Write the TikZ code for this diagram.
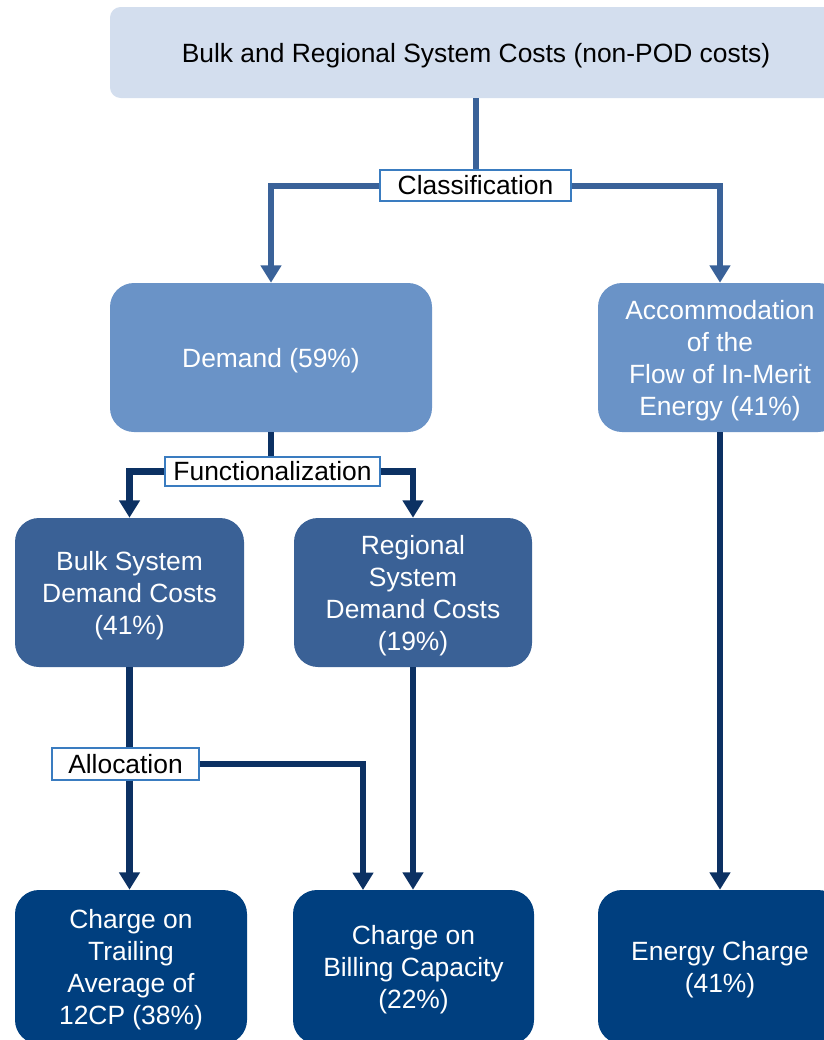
\documentclass[tikz,border=0pt]{standalone}
\usepackage{fontspec}
\setmainfont{Liberation Sans}
\usetikzlibrary{arrows.meta}
\definecolor{topfill}{RGB}{211,222,238}
\definecolor{midfill}{RGB}{106,147,199}
\definecolor{darkfill}{RGB}{58,97,150}
\definecolor{navyfill}{RGB}{0,63,127}
\definecolor{clsline}{RGB}{58,98,153}
\definecolor{navyline}{RGB}{12,49,99}
\definecolor{lblborder}{RGB}{58,124,192}
\begin{document}
\begin{tikzpicture}[x=0.75pt,y=-0.75pt,
  txt/.style={font=\fontsize{19.8pt}{24pt}\selectfont, align=center},
  box/.style={txt, rectangle, inner sep=0pt, text depth=0pt, minimum height=111.75pt, rounded corners=18pt, text=white},
  lbl/.style={txt, draw=lblborder, line width=1.1pt, fill=white, inner sep=0pt, text=black},
  cline/.style={clsline, line width=4.5pt},
  cconn/.style={cline, -{Triangle[width=15pt,length=13pt]}},
  nline/.style={navyline, line width=5pt},
  nconn/.style={nline, -{Triangle[width=15pt,length=13pt]}}
]
\useasboundingbox (0,0) rectangle (824,1040);
\clip (0,0) rectangle (824,1040);
% boxes
\node[box, fill=topfill, text=black, minimum width=549pt, minimum height=68.25pt, rounded corners=8pt] (top) at (476,52.5) {Bulk and Regional System Costs (non-POD costs)};
\node[box, fill=midfill, minimum width=241.5pt] (dem) at (271,357.5) {Demand (59\%)};
\node[box, fill=midfill, minimum width=183pt] (acc) at (720,357.5) {Accommodation\\of the\\Flow of In-Merit\\Energy (41\%)};
\node[box, fill=darkfill, minimum width=171.75pt] (bulk) at (129.5,592.5) {Bulk System\\Demand Costs\\(41\%)};
\node[box, fill=darkfill, minimum width=178.5pt] (reg) at (413,592.5) {Regional\\System\\Demand Costs\\(19\%)};
\node[box, fill=navyfill, minimum width=174pt, minimum height=115.5pt] (trail) at (131,967) {Charge on\\Trailing\\Average of\\12CP (38\%)};
\node[box, fill=navyfill, minimum width=180.75pt, minimum height=115.5pt] (bill) at (413.5,967) {Charge on\\Billing Capacity\\(22\%)};
\node[box, fill=navyfill, minimum width=183pt, minimum height=115.5pt] (energy) at (720,967) {Energy Charge\\(41\%)};
% labels
\node[lbl, minimum width=143.25pt, minimum height=23.25pt] (cls) at (475.5,185.5) {Classification};
\node[lbl, minimum width=161.25pt, minimum height=21.75pt] (fun) at (272.5,471.5) {Functionalization};
\node[lbl, minimum width=110.25pt, minimum height=24pt] (alloc) at (125.5,764) {Allocation};
\coordinate (billin) at (363,890);
% connectors
\draw[cline] (top.south) -- (top.south |- cls.north);
\draw[cconn] (cls.west) -| (dem.north);
\draw[cconn] (cls.east) -| (acc.north);
\draw[nline] (dem.south) -- (dem.south |- fun.north);
\draw[nconn] (fun.west) -| (bulk.north);
\draw[nconn] (fun.east) -| (reg.north);
\draw[nline] (bulk.south) -- (bulk.south |- alloc.north);
\draw[nconn] (bulk.south |- alloc.south) -- (bulk.south |- trail.north);
\draw[nconn] (alloc.east) -| (billin);
\draw[nconn] (reg.south) -- (reg.south |- bill.north);
\draw[nconn] (acc.south) -- (energy.north);
\end{tikzpicture}
\end{document}
